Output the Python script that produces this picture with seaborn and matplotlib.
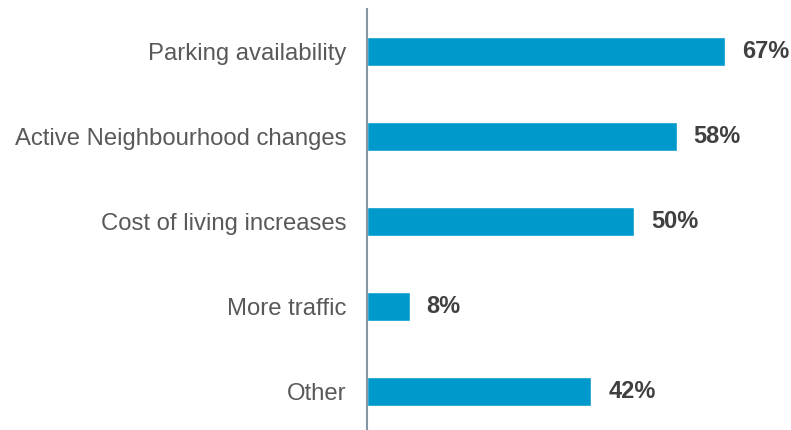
import pandas as pd
import matplotlib.pyplot as plt
import seaborn as sns

categories = ['Parking availability', 'Active Neighbourhood changes',
              'Cost of living increases', 'More traffic', 'Other']
percentages = [67, 58, 50, 8, 42]

df = pd.DataFrame({'category': categories, 'pct': percentages})

sns.set_style('white')
plt.rcParams['font.family'] = ['Liberation Sans', 'DejaVu Sans']

fig = plt.figure(figsize=(7.91, 4.30), dpi=100)
# axes placed so that the zero line sits at x=367px
ax = fig.add_axes([367 / 791, -4 / 430, 1 - 367 / 791, 425 / 430])

sns.barplot(data=df, x='pct', y='category', color='#0099CC', width=0.33,
            saturation=1, ax=ax)

ax.set_xlim(0, 79.4)
ax.set_ylim(4.5, -0.5)
ax.set_xlabel('')
ax.set_ylabel('')
ax.set_xticks([])
ax.tick_params(axis='y', length=0, pad=15, labelsize=17.2, labelcolor='#595959')

for side in ['top', 'right', 'bottom']:
    ax.spines[side].set_visible(False)
ax.spines['left'].set_color('#8496A4')
ax.spines['left'].set_linewidth(1.5)

# value labels at the end of each bar
for i, v in enumerate(percentages):
    ax.annotate(f'{v}%', xy=(v, i), xytext=(17, 0), textcoords='offset pixels',
                va='center', ha='left', fontsize=17, fontweight='bold',
                color='#404040')

fig.savefig('out.png', dpi=100)
